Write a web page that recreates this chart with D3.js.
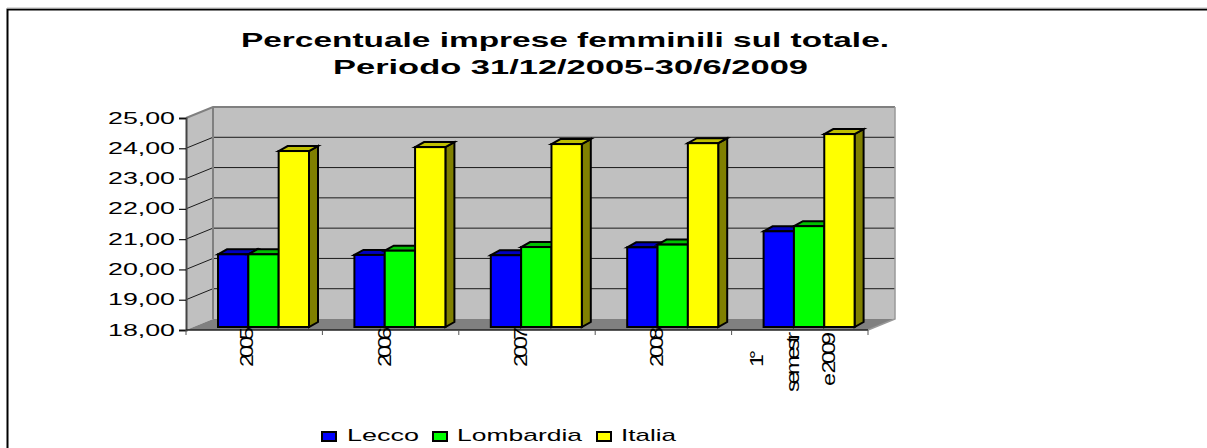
<!DOCTYPE html>
<html>
<head>
<meta charset="utf-8">
<script src="https://cdn.jsdelivr.net/npm/d3@7"></script>
<style>
  html, body { margin: 0; padding: 0; background: #fff; }
  svg { display: block; }
  text { font-family: "Liberation Sans", Arial, sans-serif; fill: #000; }
</style>
</head>
<body>
<svg id="chart" width="1207" height="448"></svg>
<script>
const categories = ["2005", "2006", "2007", "2008", "1° semestre 2009"];
const seriesNames = ["Lecco", "Lombardia", "Italia"];
const lecco = [20.40, 20.38, 20.37, 20.63, 21.16];
const lombardia = [20.40, 20.52, 20.64, 20.72, 21.33];
const italia = [23.81, 23.94, 24.04, 24.07, 24.37];
const tickValues = [18, 19, 20, 21, 22, 23, 24, 25];
const titleLines = ["Percentuale imprese femminili sul totale.", "Periodo 31/12/2005-30/6/2009"];

const front = ["#0000ff", "#00ff00", "#ffff00"];
const tops = ["#0000c0", "#00c000", "#c0c000"];
const sides = ["#000080", "#008000", "#808000"];

const svg = d3.select("#chart");

// chart frame, only top and left are in the picture
svg.append("path").attr("d", "M7.5,448V9.5H1207").attr("fill", "none").attr("stroke", "#000").attr("stroke-width", 2);
svg.append("path").attr("d", "M7,8H1207").attr("fill", "none").attr("stroke", "#b8b8b8").attr("stroke-width", 1);

const titleX = [241, 333];
const titleLen = [648, 475];
svg.selectAll("text.title").data(titleLines).join("text")
  .attr("class", "title")
  .attr("x", (d, i) => titleX[i])
  .attr("y", (d, i) => 47 + i * 27)
  .attr("font-size", 21)
  .attr("font-weight", "bold")
  .attr("textLength", (d, i) => titleLen[i])
  .attr("lengthAdjust", "spacingAndGlyphs")
  .text(d => d);

const x = d3.scaleBand().domain(categories).range([186, 868]);
const y = d3.scaleLinear().domain([18, 25]).range([330, 118]);
const depthX = 27, depthY = -11;

// walls and floor
const g = svg.append("g");
const wall = "#c0c0c0";
g.append("path")
  .attr("d", `M${x.range()[0] + depthX},${y(25) + depthY}H${x.range()[1] + depthX}V${y(18) + depthY}H${x.range()[0] + depthX}Z`)
  .attr("fill", wall);
g.append("path")
  .attr("d", `M186,${y(25)}L${186 + depthX},${y(25) + depthY}V${y(18) + depthY}L186,${y(18)}Z`)
  .attr("fill", wall);
g.append("path")
  .attr("d", `M186,${y(18)}L${186 + depthX},${y(18) + depthY}H${868 + depthX}L868,${y(18)}Z`)
  .attr("fill", "#808080");

// gridlines over back and side wall
tickValues.slice(1).forEach(v => {
  g.append("path")
    .attr("d", `M186,${y(v)}L${186 + depthX},${y(v) + depthY}H${868 + depthX}`)
    .attr("fill", "none")
    .attr("stroke", v === 25 ? "#808080" : "#1a1a1a")
    .attr("stroke-width", v === 25 ? 2 : 1);
});
g.append("path")
  .attr("d", `M${186 + depthX},${y(25) + depthY}V${y(18) + depthY}`)
  .attr("stroke", "#808080").attr("stroke-width", 2).attr("fill", "none");
g.append("path")
  .attr("d", `M${868 + depthX},${y(25) + depthY}V${y(18) + depthY}L868,${y(18)}`)
  .attr("stroke", "#999").attr("stroke-width", 1.5).attr("fill", "none");

// axes
const yAxis = d3.axisLeft(y).tickValues(tickValues)
  .tickSize(7).tickPadding(4)
  .tickFormat(d => d3.format(".2f")(d).replace(".", ","));
const yG = svg.append("g").attr("transform", "translate(186,0)").call(yAxis);
yG.select(".domain").attr("stroke", "#444").attr("stroke-width", 2);
yG.selectAll(".tick line").attr("stroke", "#111").attr("stroke-width", 1.2);
yG.selectAll("text").attr("font-size", 16).attr("fill", "#000").style("font-family", '"Liberation Sans", sans-serif')
  .attr("textLength", 67).attr("lengthAdjust", "spacingAndGlyphs");

const ticksX = categories.map(c => x(c)).concat([x.range()[1]]);
svg.append("path").attr("d", `M186,${y(18)}H868`).attr("stroke", "#222").attr("stroke-width", 1.5);
svg.selectAll("path.xtick").data(ticksX).join("path")
  .attr("class", "xtick")
  .attr("d", d => `M${d},${y(18)}v5`)
  .attr("stroke", "#555").attr("stroke-width", 1);

// bars
const seriesValues = [lecco, lombardia, italia];
const barBase = 327;
const unit = y(18) - y(19);
const barY = v => barBase - (v - 18) * unit;
const xInner = d3.scaleBand().domain(seriesNames).range([0, 91]);
const barDepthX = 9, barDepthY = -5;

seriesNames.forEach((name, s) => {
  categories.forEach((cat, i) => {
    const v = seriesValues[s][i];
    const x0 = x(cat) + 32 + xInner(name), w = xInner.bandwidth(), top = barY(v);
    const bar = svg.append("g").attr("stroke", "#000").attr("stroke-width", 2).attr("stroke-linejoin", "miter");
    bar.append("path")
      .attr("d", `M${x0 + w},${top}l${barDepthX},${barDepthY}V${barBase + barDepthY}l${-barDepthX},${-barDepthY}Z`)
      .attr("fill", sides[s]);
    bar.append("path")
      .attr("d", `M${x0},${top}l${barDepthX},${barDepthY}h${w}l${-barDepthX},${-barDepthY}Z`)
      .attr("fill", tops[s]);
    bar.append("rect")
      .attr("x", x0).attr("y", top).attr("width", w).attr("height", barBase - top)
      .attr("fill", front[s]);
  });
});

// category labels, rotated, wide glyphs on a squeezed advance so they overlap like the original
const catLines = [["2005"], ["2006"], ["2007"], ["2008"], ["1°", "semestr", "e 2009"]];
const lineX = [[253], [391], [527], [663], [763, 799, 835]];
const lineBottom = [[367], [367], [367], [367], [367, 392, 386]];
const lineLen = [[40], [40], [40], [40], [17, 60, 54]];
const glyphStretch = 1.3;
catLines.forEach((lines, i) => {
  lines.forEach((t, j) => {
    svg.append("text")
      .attr("transform", `translate(${lineX[i][j]},${lineBottom[i][j]}) rotate(-90) scale(${glyphStretch},1)`)
      .attr("font-size", 18)
      .attr("textLength", lineLen[i][j] / glyphStretch)
      .attr("lengthAdjust", "spacing")
      .text(t);
  });
});

// legend
const swatchX = [322, 433, 597];
const legendX = [347, 457, 621];
const legendLen = [72, 125, 55];
seriesNames.forEach((name, s) => {
  svg.append("rect").attr("x", swatchX[s]).attr("y", 432).attr("width", 14).attr("height", 9)
    .attr("fill", front[s]).attr("stroke", "#000").attr("stroke-width", 2);
  svg.append("text").attr("x", legendX[s]).attr("y", 441).attr("font-size", 17)
    .attr("textLength", legendLen[s]).attr("lengthAdjust", "spacingAndGlyphs").text(name);
});
</script>
</body>
</html>
